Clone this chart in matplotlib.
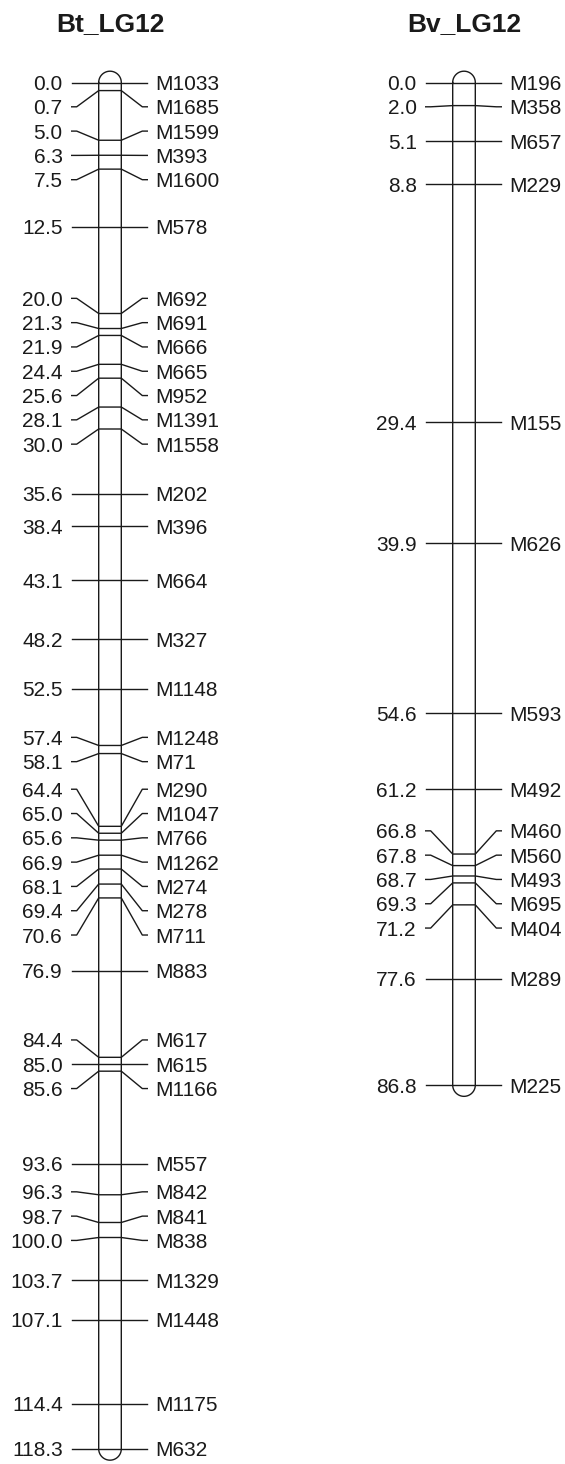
import matplotlib
matplotlib.use("Agg")
import matplotlib.pyplot as plt
import numpy as np

plt.rcParams['font.family'] = ['Liberation Sans', 'DejaVu Sans']

# linkage groups: positions (cM) and marker names
bt_pos = [0.0, 0.7, 5.0, 6.3, 7.5, 12.5, 20.0, 21.3, 21.9, 24.4, 25.6, 28.1, 30.0,
          35.6, 38.4, 43.1, 48.2, 52.5, 57.4, 58.1, 64.4, 65.0, 65.6, 66.9, 68.1,
          69.4, 70.6, 76.9, 84.4, 85.0, 85.6, 93.6, 96.3, 98.7, 100.0, 103.7,
          107.1, 114.4, 118.3]
bt_names = ["M1033", "M1685", "M1599", "M393", "M1600", "M578", "M692", "M691",
            "M666", "M665", "M952", "M1391", "M1558", "M202", "M396", "M664",
            "M327", "M1148", "M1248", "M71", "M290", "M1047", "M766", "M1262",
            "M274", "M278", "M711", "M883", "M617", "M615", "M1166", "M557",
            "M842", "M841", "M838", "M1329", "M1448", "M1175", "M632"]

bv_pos = [0.0, 2.0, 5.1, 8.8, 29.4, 39.9, 54.6, 61.2, 66.8, 67.8, 68.7, 69.3,
          71.2, 77.6, 86.8]
bv_names = ["M196", "M358", "M657", "M229", "M155", "M626", "M593", "M492",
            "M460", "M560", "M493", "M695", "M404", "M289", "M225"]

groups = [("Bt_LG12", bt_pos, bt_names, 110),
          ("Bv_LG12", bv_pos, bv_names, 464)]

W, H = 565, 1464
PX = 11.55          # pixels per cM
Y0 = 82.5           # pixel row of 0 cM
HALF = 11.3         # half width of the bar (px)
GAP = 24.3 / PX     # minimum label spacing in cM


def place_labels(pos, gap):
    # spread crowded labels around the middle of each cluster
    lo, hi = pos[0], pos[-1]
    clusters = [[i] for i in range(len(pos))]
    while True:
        starts = []
        for c in clusters:
            mid = (pos[c[0]] + pos[c[-1]]) / 2
            s = mid - (len(c) - 1) * gap / 2
            s = max(s, lo)
            s = min(s, hi - (len(c) - 1) * gap)
            starts.append(s)
        merged = False
        for k in range(len(clusters) - 1):
            end = starts[k] + (len(clusters[k]) - 1) * gap
            if starts[k + 1] - end < gap - 1e-9:
                clusters[k] = clusters[k] + clusters[k + 1]
                del clusters[k + 1]
                merged = True
                break
        if not merged:
            break
    out = []
    for c, s in zip(clusters, starts):
        out += [s + j * gap for j in range(len(c))]
    return out


fig = plt.figure(figsize=(W / 100, H / 100), dpi=100)
ax = fig.add_axes([0, 0, 1, 1])
ax.set_xlim(0, W)
ax.set_ylim((H - Y0) / PX, -Y0 / PX)
ax.axis('off')

lw = 1.0
col = '#1a1a1a'
for title, pos, names, cx in groups:
    left, right = cx - HALF, cx + HALF
    r = HALF / PX
    top, bot = pos[0], pos[-1]

    # bar outline with rounded ends
    xs, ys = [], []
    n = 40
    for i in range(n + 1):
        a = np.pi * i / n
        xs.append(cx - HALF * np.cos(a))
        ys.append(top - r * np.sin(a))
    for i in range(n + 1):
        a = np.pi * i / n
        xs.append(cx + HALF * np.cos(a))
        ys.append(bot + r * np.sin(a))
    xs.append(xs[0])
    ys.append(ys[0])
    ax.plot(xs, ys, color=col, lw=lw, solid_joinstyle='round')

    labs = place_labels(pos, GAP)
    for p, lab, name in zip(pos, labs, names):
        ax.plot([left - 27, left - 22, left, right, right + 21, right + 26],
                [lab, lab, p, p, lab, lab], color=col, lw=lw)
        ax.text(left - 36, lab, f"{p:.1f}", ha='right', va='center_baseline',
                fontsize=15, color=col)
        ax.text(right + 34, lab, name, ha='left', va='center_baseline',
                fontsize=15, color=col)

    ax.text(cx, (22 - Y0) / PX, title, ha='center', va='center_baseline',
            fontsize=19, fontweight='bold', color=col)

fig.savefig("out.png", dpi=100)
